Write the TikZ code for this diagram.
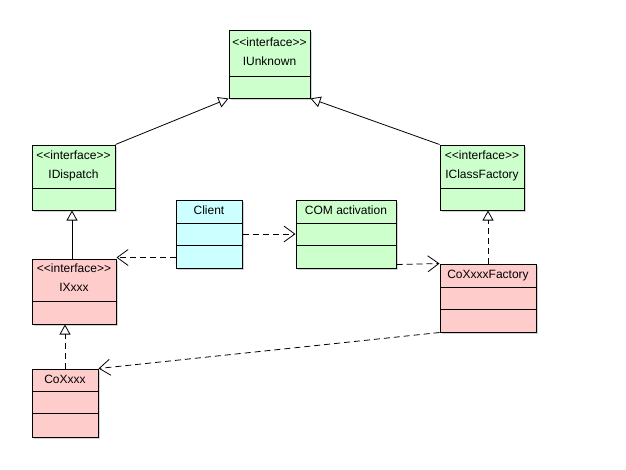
\documentclass[tikz,border=0pt]{standalone}
\usepackage{fontspec}
\setmainfont{Liberation Sans}[Ligatures=TeXOff]
\usetikzlibrary{arrows.meta, positioning, calc, shadows}

\definecolor{ifgreen}{RGB}{204,255,204}
\definecolor{clpink}{RGB}{255,204,204}
\definecolor{clcyan}{RGB}{204,255,255}

\begin{document}
\begin{tikzpicture}[
        x=1pt, y=-1pt,
        font=\fontsize{12}{14}\selectfont,
        umlbox/.style={draw, line width=1pt, inner sep=0pt,
            drop shadow={shadow xshift=2pt, shadow yshift=-2pt, opacity=0.35}},
        boxtext/.style={inner sep=0pt, text height=8.5pt, text depth=0pt, anchor=center},
        divider/.style={line width=1pt},
        inherit/.style={-{Triangle[open, length=10pt, width=11pt]}, line width=0.8pt},
        realize/.style={inherit, dash pattern=on 6pt off 4pt},
        depend/.style={-{Straight Barb[length=11pt, width=16pt]}, line width=0.8pt, dash pattern=on 6pt off 4pt}
        ]
        \useasboundingbox (0,0) rectangle (626,469);

        % interfaces
        \node[umlbox, fill=ifgreen, minimum width=81pt, minimum height=68pt] (iunknown) at (269.5,64) {};
        \node[boxtext] (iunknownst) at (269.5,42) {<<interface>>};
        \node[boxtext] (iunknownnm) at (269.5,61) {IUnknown};
        \draw[divider] ($(iunknown.north west)+(0,47)$) -- ($(iunknown.north east)+(0,47)$);

        \node[umlbox, fill=ifgreen, minimum width=83pt, minimum height=65pt] (idispatch) at (73.5,177.5) {};
        \node[boxtext] (idispatchst) at (73.5,155.5) {<<interface>>};
        \node[boxtext] (idispatchnm) at (73.5,174.5) {IDispatch};
        \draw[divider] ($(idispatch.north west)+(0,44)$) -- ($(idispatch.north east)+(0,44)$);

        \node[umlbox, fill=ifgreen, minimum width=84pt, minimum height=65pt] (iclassfactory) at (482,177.5) {};
        \node[boxtext] (iclassfactoryst) at (482,155.5) {<<interface>>};
        \node[boxtext] (iclassfactorynm) at (482,174) {IClassFactory};
        \draw[divider] ($(iclassfactory.north west)+(0,44)$) -- ($(iclassfactory.north east)+(0,44)$);

        \node[umlbox, fill=clpink, minimum width=84pt, minimum height=65pt] (ixxx) at (74,291.5) {};
        \node[boxtext] (ixxxst) at (74,268.5) {<<interface>>};
        \node[boxtext] (ixxxnm) at (74,287) {IXxxx};
        \draw[divider] ($(ixxx.north west)+(0,43)$) -- ($(ixxx.north east)+(0,43)$);

        % classes
        \node[umlbox, fill=clcyan, minimum width=66pt, minimum height=68pt] (client) at (209,234) {};
        \node[boxtext] (clientnm) at (209,210) {Client};
        \draw[divider] ($(client.north west)+(0,24)$) -- ($(client.north east)+(0,24)$);
        \draw[divider] ($(client.north west)+(0,46)$) -- ($(client.north east)+(0,46)$);

        \node[umlbox, fill=ifgreen, minimum width=100pt, minimum height=68pt] (comact) at (346,234) {};
        \node[boxtext] (comactnm) at (346,210) {COM activation};
        \draw[divider] ($(comact.north west)+(0,24)$) -- ($(comact.north east)+(0,24)$);
        \draw[divider] ($(comact.north west)+(0,46)$) -- ($(comact.north east)+(0,46)$);

        \node[umlbox, fill=clpink, minimum width=96pt, minimum height=68pt] (coxxxfactory) at (488,298) {};
        \node[boxtext] (coxxxfactorynm) at (488,274) {CoXxxxFactory};
        \draw[divider] ($(coxxxfactory.north west)+(0,24)$) -- ($(coxxxfactory.north east)+(0,24)$);
        \draw[divider] ($(coxxxfactory.north west)+(0,46)$) -- ($(coxxxfactory.north east)+(0,46)$);

        \node[umlbox, fill=clpink, minimum width=66pt, minimum height=68pt] (coxxx) at (65,403) {};
        \node[boxtext] (coxxxnm) at (65,379) {CoXxxx};
        \draw[divider] ($(coxxx.north west)+(0,23)$) -- ($(coxxx.north east)+(0,23)$);
        \draw[divider] ($(coxxx.north west)+(0,45)$) -- ($(coxxx.north east)+(0,45)$);

        % generalization and realization
        \draw[inherit] (idispatch.north east) -- (iunknown.south west);
        \draw[inherit] (iclassfactory.north west) -- (iunknown.south east);
        \draw[inherit] ([xshift=-2pt]ixxx.north) -- ([xshift=-2pt]ixxx.north |- idispatch.south);
        \draw[realize] (coxxx.north) -- (coxxx.north |- ixxx.south);
        \draw[realize] (coxxxfactory.north) -- (coxxxfactory.north |- iclassfactory.south);

        % dependencies
        \draw[depend] ([yshift=11pt]client.south west) -- ([yshift=11pt]client.south west -| ixxx.east);
        \draw[depend] (client.east) -- (comact.west);
        \draw[depend] ([yshift=4pt]comact.south east) -- (coxxxfactory.north west);
        \draw[depend] (coxxxfactory.south west) -- (coxxx.north east);
    \end{tikzpicture}
\end{document}
